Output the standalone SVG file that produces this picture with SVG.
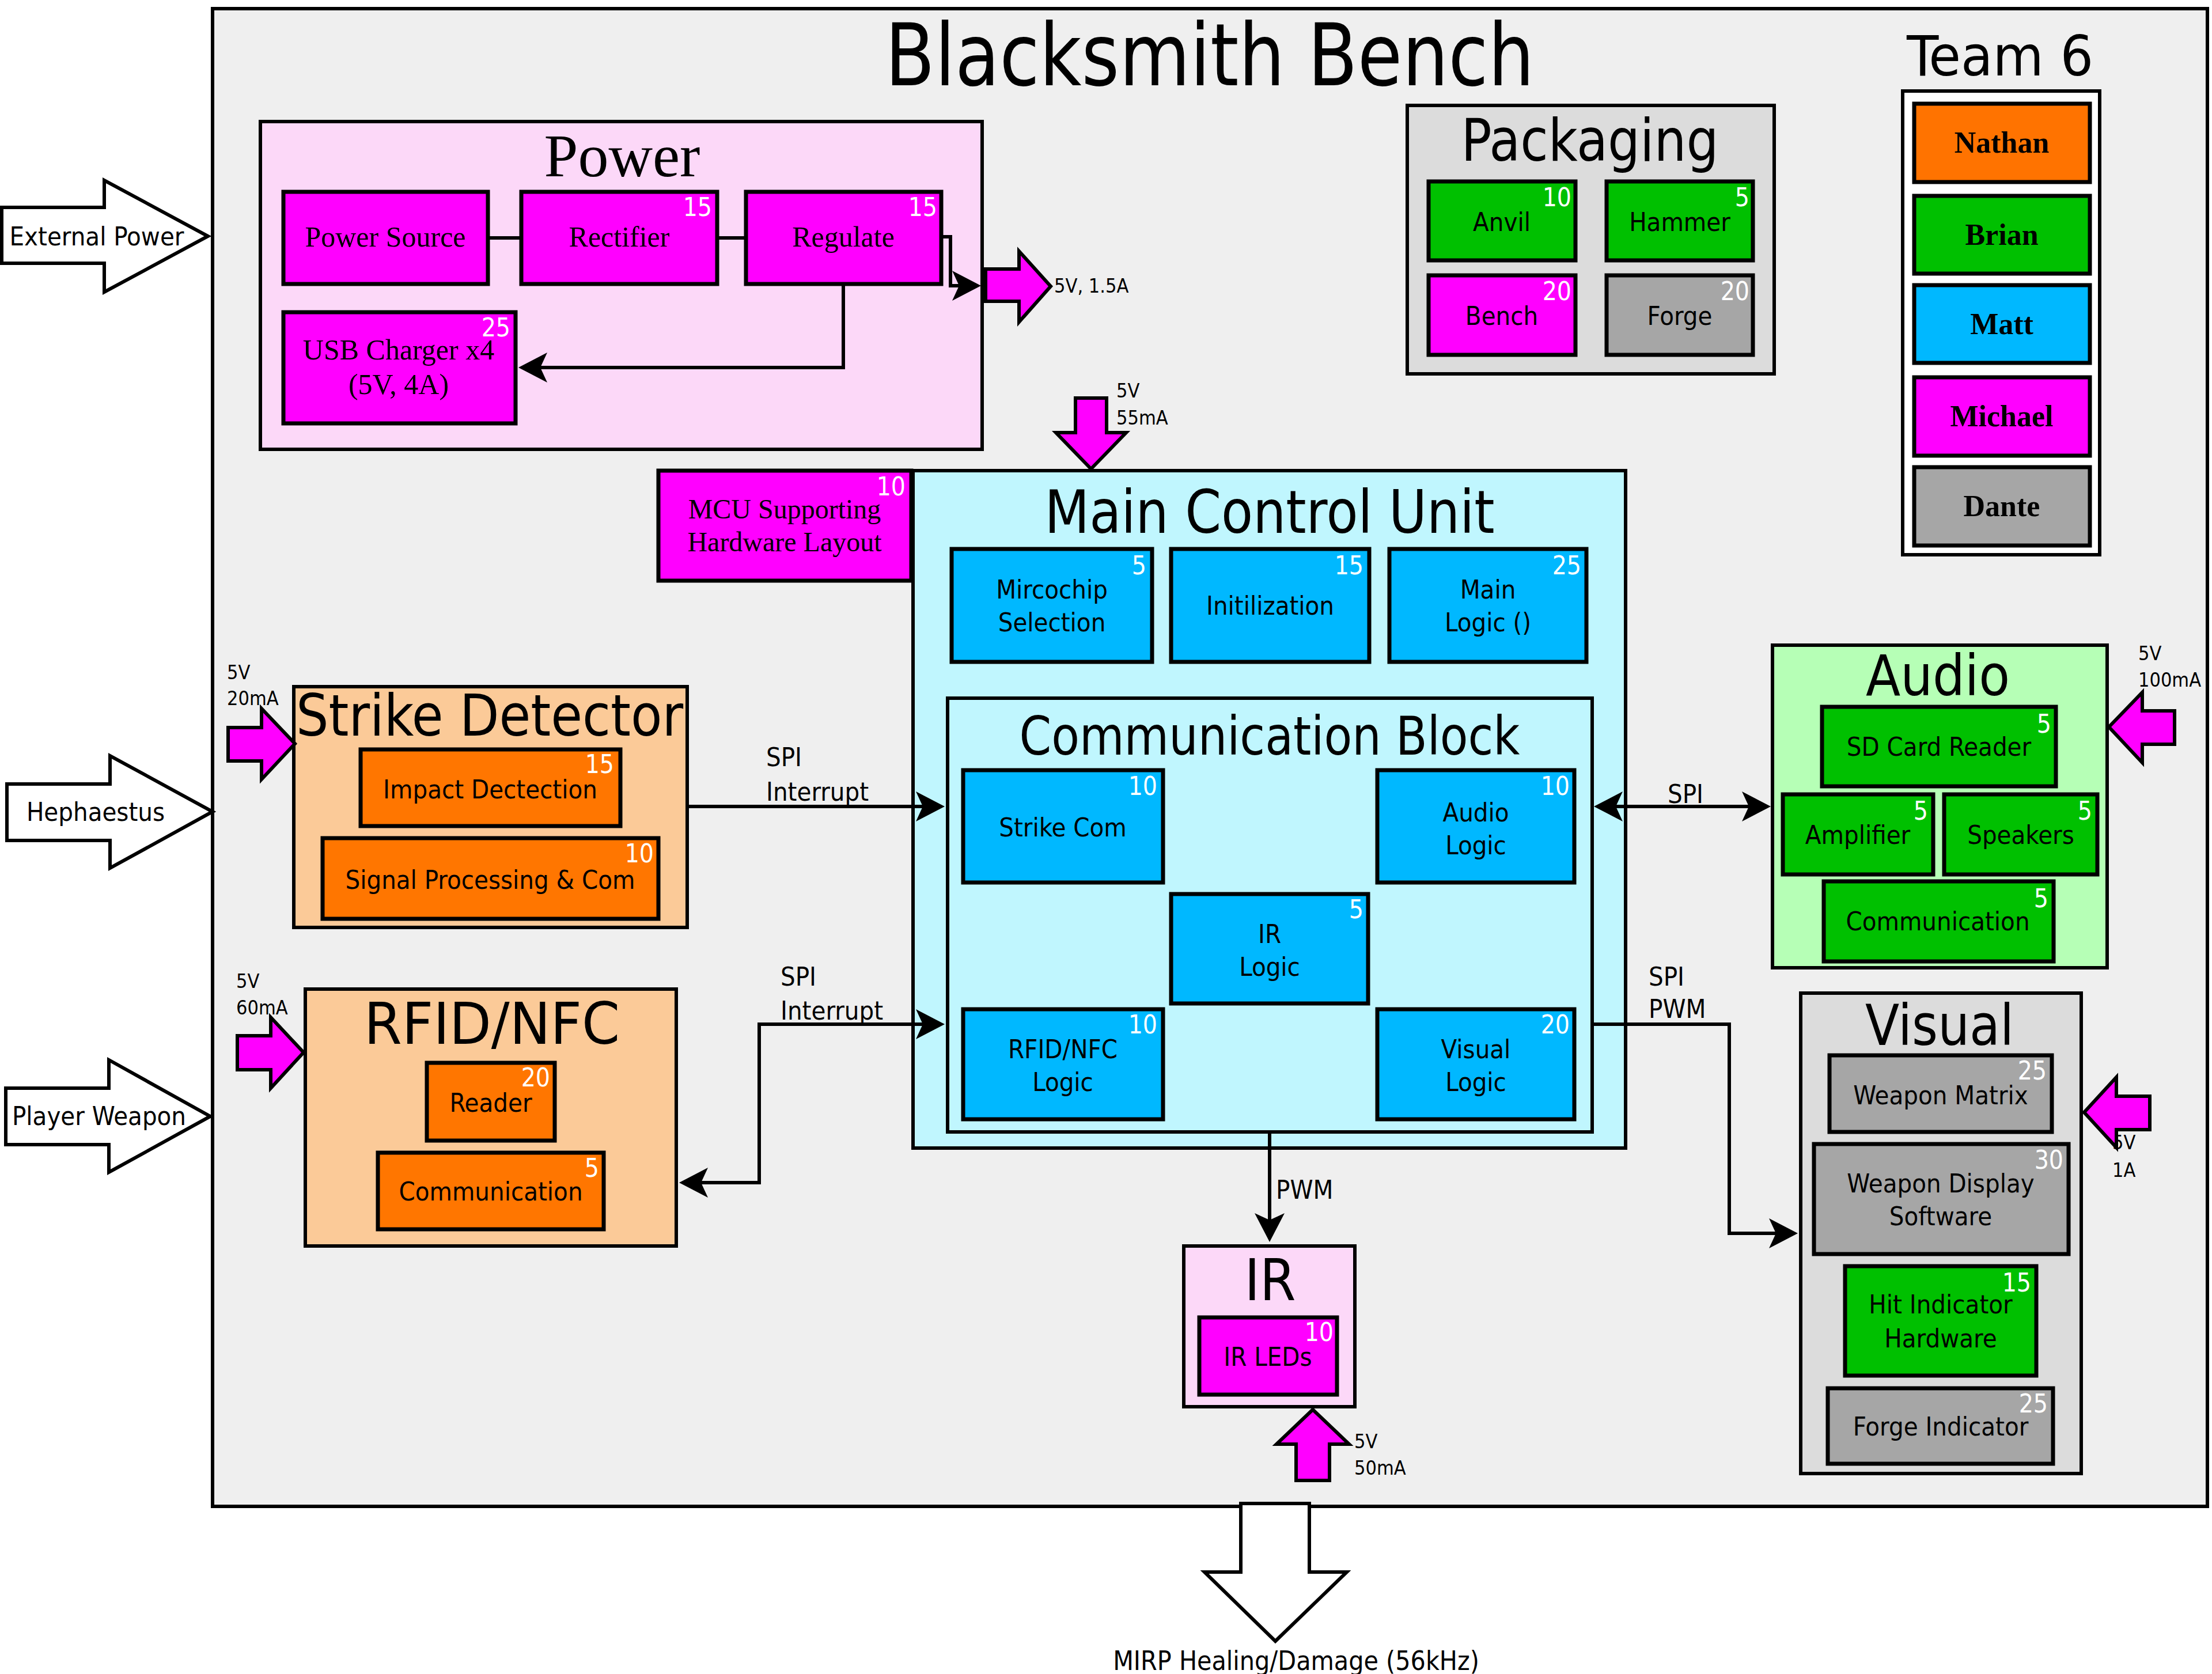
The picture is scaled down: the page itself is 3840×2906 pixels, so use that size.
<svg xmlns="http://www.w3.org/2000/svg" width="3840" height="2906" viewBox="0 0 3840 2906">
<style>
text{font-family:"DejaVu Sans Condensed","DejaVu Sans",sans-serif;fill:#000}
.t{font-size:45px;text-anchor:middle}
.n{font-size:44px;text-anchor:end;fill:#fff}
.s{font-family:"Liberation Serif",serif;font-size:50px;text-anchor:middle}
.nm{font-family:"Liberation Serif",serif;font-size:52px;font-weight:bold;text-anchor:middle}
.sm{font-size:34px}
.ttl{text-anchor:middle}
.b{stroke:#000;stroke-width:7}
.g{stroke:#000;stroke-width:6}
.mag{fill:#ff00ff}.blu{fill:#00b8ff}.org{fill:#ff7600}.grn{fill:#00c000}.gry{fill:#a6a6a6}
.pw{fill:#ff00ff;stroke:#000;stroke-width:6;stroke-linejoin:miter}
.wa{fill:#fff;stroke:#000;stroke-width:6}
.c{fill:none;stroke:#000;stroke-width:6}
</style>
<defs>
<marker id="ah" markerUnits="userSpaceOnUse" markerWidth="70" markerHeight="70" viewBox="-60 -35 70 70" refX="-8" refY="0" orient="auto-start-reverse">
<path d="M0,0 L-50,-26 L-38,0 L-50,26 Z" fill="#000"/>
</marker>
</defs>
<rect x="0" y="0" width="3840" height="2906" fill="#fff"/>

<g id="frame">
<rect x="369" y="15" width="3463" height="2600" fill="#efefef" stroke="#000" stroke-width="6"/>
<text class="ttl" x="2100" y="148" font-size="150" textLength="1127" lengthAdjust="spacingAndGlyphs">Blacksmith Bench</text>
</g>

<g id="external-power">
<polygon class="wa" points="3,360 181,360 181,313 361,410 181,507 181,457 3,457"/>
<text class="t" x="168" y="426">External Power</text>
</g>
<g id="hephaestus">
<polygon class="wa" points="12,1361 191,1361 191,1312 369,1409 191,1507 191,1459 12,1459"/>
<text class="t" x="166" y="1425">Hephaestus</text>
</g>
<g id="player-weapon">
<polygon class="wa" points="10,1889 189,1889 189,1840 365,1938 189,2035 189,1987 10,1987"/>
<text class="t" x="172" y="1953">Player Weapon</text>
</g>

<g id="power">
<rect x="452" y="211" width="1253" height="569" fill="#fcd8f8" class="g"/>
<text x="1080" y="306" font-family="Liberation Serif, serif" font-size="106" text-anchor="middle" style="font-family:'Liberation Serif',serif">Power</text>
</g>
<g id="power-source">
<rect x="492" y="333" width="355" height="160" class="b mag"/>
<text class="s" x="669" y="428">Power Source</text>
</g>
<g id="rectifier">
<rect x="905" y="333" width="340" height="160" class="b mag"/>
<text class="s" x="1075" y="428">Rectifier</text>
<text class="n" x="1236" y="375">15</text>
</g>
<g id="regulate">
<rect x="1295" y="333" width="339" height="160" class="b mag"/>
<text class="s" x="1464" y="428">Regulate</text>
<text class="n" x="1627" y="375">15</text>
</g>
<g id="usb-charger">
<rect x="492" y="542" width="403" height="193" class="b mag"/>
<text class="s" x="692" y="624">USB Charger x4</text>
<text class="s" x="692" y="684">(5V, 4A)</text>
<text class="n" x="886" y="584">25</text>
</g>

<g id="mcu-supporting">
<rect x="1143" y="817" width="439" height="191" class="b mag"/>
<text class="s" x="1362" y="900" font-size="48" style="font-size:48px">MCU Supporting</text>
<text class="s" x="1362" y="957" style="font-size:48px">Hardware Layout</text>
<text class="n" x="1572" y="860">10</text>
</g>

<g id="packaging">
<rect x="2443" y="183" width="637" height="466" fill="#dcdcdc" class="g"/>
<text class="ttl" x="2760" y="279" font-size="101" textLength="447" lengthAdjust="spacingAndGlyphs">Packaging</text>
</g>
<g id="anvil">
<rect x="2480" y="315" width="255" height="137" class="b grn"/>
<text class="t" x="2607" y="401">Anvil</text>
<text class="n" x="2728" y="358">10</text>
</g>
<g id="hammer">
<rect x="2789" y="315" width="254" height="137" class="b grn"/>
<text class="t" x="2916" y="401">Hammer</text>
<text class="n" x="3037" y="358">5</text>
</g>
<g id="bench">
<rect x="2480" y="478" width="255" height="138" class="b mag"/>
<text class="t" x="2607" y="564">Bench</text>
<text class="n" x="2728" y="521">20</text>
</g>
<g id="forge">
<rect x="2789" y="478" width="254" height="138" class="b gry"/>
<text class="t" x="2916" y="564">Forge</text>
<text class="n" x="3037" y="521">20</text>
</g>

<g id="team">
<text class="ttl" x="3472" y="131" font-size="96" textLength="324" lengthAdjust="spacingAndGlyphs">Team 6</text>
<rect x="3303" y="158" width="342" height="805" fill="#fff" class="g"/>
</g>
<g id="nathan"><rect x="3323" y="180" width="305" height="136" class="b" fill="#ff7300"/><text class="nm" x="3475" y="265">Nathan</text></g>
<g id="brian"><rect x="3323" y="340" width="305" height="135" class="b grn"/><text class="nm" x="3475" y="425">Brian</text></g>
<g id="matt"><rect x="3323" y="495" width="305" height="135" class="b blu"/><text class="nm" x="3475" y="580">Matt</text></g>
<g id="michael"><rect x="3323" y="655" width="305" height="136" class="b mag"/><text class="nm" x="3475" y="740">Michael</text></g>
<g id="dante"><rect x="3323" y="811" width="305" height="136" class="b gry"/><text class="nm" x="3475" y="896">Dante</text></g>

<g id="main-control-unit">
<rect x="1585" y="817" width="1237" height="1176" fill="#c0f6fe" class="g"/>
<text class="ttl" x="2204" y="925" font-size="103" textLength="781" lengthAdjust="spacingAndGlyphs">Main Control Unit</text>
</g>
<g id="mircochip">
<rect x="1652" y="953" width="348" height="196" class="b blu"/>
<text class="t" x="1826" y="1039">Mircochip</text>
<text class="t" x="1826" y="1096">Selection</text>
<text class="n" x="1990" y="997">5</text>
</g>
<g id="initilization">
<rect x="2033" y="953" width="344" height="196" class="b blu"/>
<text class="t" x="2205" y="1067">Initilization</text>
<text class="n" x="2367" y="997">15</text>
</g>
<g id="main-logic">
<rect x="2412" y="953" width="342" height="196" class="b blu"/>
<text class="t" x="2583" y="1039">Main</text>
<text class="t" x="2583" y="1096">Logic ()</text>
<text class="n" x="2745" y="997">25</text>
</g>

<g id="communication-block">
<rect x="1645" y="1212" width="1119" height="753" fill="#c0f6fe" class="g"/>
<text class="ttl" x="2204" y="1310" font-size="93" textLength="869" lengthAdjust="spacingAndGlyphs">Communication Block</text>
</g>
<g id="strike-com">
<rect x="1672" y="1337" width="347" height="195" class="b blu"/>
<text class="t" x="1845" y="1452">Strike Com</text>
<text class="n" x="2009" y="1380">10</text>
</g>
<g id="audio-logic">
<rect x="2391" y="1337" width="342" height="195" class="b blu"/>
<text class="t" x="2562" y="1426">Audio</text>
<text class="t" x="2562" y="1483">Logic</text>
<text class="n" x="2725" y="1380">10</text>
</g>
<g id="ir-logic">
<rect x="2033" y="1552" width="342" height="190" class="b blu"/>
<text class="t" x="2204" y="1637">IR</text>
<text class="t" x="2204" y="1694">Logic</text>
<text class="n" x="2367" y="1594">5</text>
</g>
<g id="rfid-nfc-logic">
<rect x="1672" y="1752" width="347" height="191" class="b blu"/>
<text class="t" x="1845" y="1837">RFID/NFC</text>
<text class="t" x="1845" y="1894">Logic</text>
<text class="n" x="2009" y="1794">10</text>
</g>
<g id="visual-logic">
<rect x="2391" y="1752" width="342" height="191" class="b blu"/>
<text class="t" x="2562" y="1837">Visual</text>
<text class="t" x="2562" y="1894">Logic</text>
<text class="n" x="2725" y="1794">20</text>
</g>

<g id="strike-detector">
<rect x="510" y="1192" width="683" height="418" fill="#fbca98" class="g"/>
<text class="ttl" x="850" y="1277" font-size="99" textLength="672" lengthAdjust="spacingAndGlyphs">Strike Detector</text>
</g>
<g id="impact-dectection">
<rect x="626" y="1301" width="451" height="133" class="b org"/>
<text class="t" x="851" y="1386">Impact Dectection</text>
<text class="n" x="1066" y="1342">15</text>
</g>
<g id="signal-processing">
<rect x="560" y="1455" width="583" height="140" class="b org"/>
<text class="t" x="851" y="1543">Signal Processing &amp; Com</text>
<text class="n" x="1135" y="1497">10</text>
</g>

<g id="rfid-nfc">
<rect x="530" y="1717" width="644" height="446" fill="#fbca98" class="g"/>
<text class="ttl" x="854" y="1812" font-size="99" textLength="444" lengthAdjust="spacingAndGlyphs">RFID/NFC</text>
</g>
<g id="reader">
<rect x="741" y="1845" width="222" height="135" class="b org"/>
<text class="t" x="852" y="1930">Reader</text>
<text class="n" x="955" y="1886">20</text>
</g>
<g id="rfid-communication">
<rect x="656" y="2001" width="392" height="133" class="b org"/>
<text class="t" x="852" y="2084">Communication</text>
<text class="n" x="1040" y="2043">5</text>
</g>

<g id="audio">
<rect x="3077" y="1120" width="581" height="560" fill="#b6ffb6" class="g"/>
<text class="ttl" x="3364" y="1207" font-size="98" textLength="250" lengthAdjust="spacingAndGlyphs">Audio</text>
</g>
<g id="sd-card-reader">
<rect x="3163" y="1227" width="406" height="138" class="b grn"/>
<text class="t" x="3366" y="1312">SD Card Reader</text>
<text class="n" x="3561" y="1272">5</text>
</g>
<g id="amplifier">
<rect x="3095" y="1379" width="261" height="139" class="b grn"/>
<text class="t" x="3225" y="1465">Amplifier</text>
<text class="n" x="3347" y="1423">5</text>
</g>
<g id="speakers">
<rect x="3375" y="1379" width="266" height="139" class="b grn"/>
<text class="t" x="3508" y="1465">Speakers</text>
<text class="n" x="3632" y="1423">5</text>
</g>
<g id="audio-communication">
<rect x="3166" y="1530" width="399" height="139" class="b grn"/>
<text class="t" x="3364" y="1615">Communication</text>
<text class="n" x="3556" y="1575">5</text>
</g>

<g id="visual">
<rect x="3126" y="1724" width="487" height="834" fill="#dcdcdc" class="g"/>
<text class="ttl" x="3367" y="1814" font-size="98" textLength="258" lengthAdjust="spacingAndGlyphs">Visual</text>
</g>
<g id="weapon-matrix">
<rect x="3176" y="1832" width="386" height="133" class="b gry"/>
<text class="t" x="3369" y="1917">Weapon Matrix</text>
<text class="n" x="3553" y="1874">25</text>
</g>
<g id="weapon-display-software">
<rect x="3149" y="1986" width="442" height="191" class="b gry"/>
<text class="t" x="3369" y="2070">Weapon Display</text>
<text class="t" x="3369" y="2127">Software</text>
<text class="n" x="3582" y="2029">30</text>
</g>
<g id="hit-indicator-hardware">
<rect x="3203" y="2198" width="332" height="190" class="b grn"/>
<text class="t" x="3369" y="2280">Hit Indicator</text>
<text class="t" x="3369" y="2339">Hardware</text>
<text class="n" x="3526" y="2242">15</text>
</g>
<g id="forge-indicator">
<rect x="3173" y="2410" width="391" height="131" class="b gry"/>
<text class="t" x="3369" y="2492">Forge Indicator</text>
<text class="n" x="3555" y="2452">25</text>
</g>

<g id="ir">
<rect x="2055" y="2163" width="297" height="279" fill="#fcd8f8" class="g"/>
<text class="ttl" x="2205" y="2257" font-size="100">IR</text>
</g>
<g id="ir-leds">
<rect x="2082" y="2287" width="239" height="134" class="b mag"/>
<text class="t" x="2201" y="2371">IR LEDs</text>
<text class="n" x="2315" y="2328">10</text>
</g>

<g id="mirp">
<polygon class="wa" points="2154,2610 2273,2610 2273,2729 2338,2729 2214,2849 2091,2729 2154,2729"/>
<text class="ttl" x="2250" y="2899" font-size="46">MIRP Healing/Damage (56kHz)</text>
</g>

<g id="power-labels">
<text class="sm" x="1830" y="508">5V, 1.5A</text>
<text class="sm" x="1938" y="690">5V</text>
<text class="sm" x="1938" y="737">55mA</text>
<text class="sm" x="394" y="1179">5V</text>
<text class="sm" x="394" y="1224">20mA</text>
<text class="sm" x="410" y="1715">5V</text>
<text class="sm" x="410" y="1761">60mA</text>
<text class="sm" x="3712" y="1146">5V</text>
<text class="sm" x="3712" y="1192">100mA</text>
<text class="sm" x="3667" y="1995">5V</text>
<text class="sm" x="3667" y="2043">1A</text>
<text class="sm" x="2351" y="2514">5V</text>
<text class="sm" x="2351" y="2560">50mA</text>
</g>
<g id="power-arrows">
<polygon class="pw" points="1711,467 1769,467 1769,436 1824,497 1769,559 1769,523 1711,523"/>
<polygon class="pw" points="1867,691 1921,691 1921,751 1955,751 1894,814 1833,751 1867,751"/>
<polygon class="pw" points="396,1263 454,1263 454,1230 512,1291 454,1353 454,1321 396,1321"/>
<polygon class="pw" points="412,1798 470,1798 470,1766 527,1827 470,1889 470,1857 412,1857"/>
<polygon class="pw" points="3775,1234 3719,1234 3719,1202 3661,1262 3719,1324 3719,1292 3775,1292"/>
<polygon class="pw" points="3732,1903 3674,1903 3674,1870 3618,1931 3674,1992 3674,1961 3732,1961"/>
<polygon class="pw" points="2250,2570 2308,2570 2308,2507 2342,2507 2279,2447 2216,2507 2250,2507"/>
</g>

<g id="connectors">
<path class="c" d="M847,413 H905"/>
<path class="c" d="M1245,413 H1295"/>
<path class="c" d="M1634,411 H1650 V496 H1695" marker-end="url(#ah)"/>
<path class="c" d="M1464,493 V638 H908" marker-end="url(#ah)"/>
<path class="c" d="M1193,1400 H1632" marker-end="url(#ah)"/>
<path class="c" d="M1187,2053 H1318 V1778 H1632" marker-start="url(#ah)" marker-end="url(#ah)"/>
<path class="c" d="M2775,1400 H3066" marker-start="url(#ah)" marker-end="url(#ah)"/>
<path class="c" d="M2767,1778 H3002 V2141 H3113" marker-end="url(#ah)"/>
<path class="c" d="M2204,1965 V2148" marker-end="url(#ah)"/>
<text class="t" x="1330" y="1330" text-anchor="start" style="text-anchor:start">SPI</text>
<text class="t" x="1330" y="1390" style="text-anchor:start">Interrupt</text>
<text class="t" x="1355" y="1711" style="text-anchor:start">SPI</text>
<text class="t" x="1355" y="1770" style="text-anchor:start">Interrupt</text>
<text class="t" x="2926" y="1394">SPI</text>
<text class="t" x="2862" y="1711" style="text-anchor:start">SPI</text>
<text class="t" x="2862" y="1767" style="text-anchor:start">PWM</text>
<text class="t" x="2215" y="2081" style="text-anchor:start">PWM</text>
</g>
</svg>
